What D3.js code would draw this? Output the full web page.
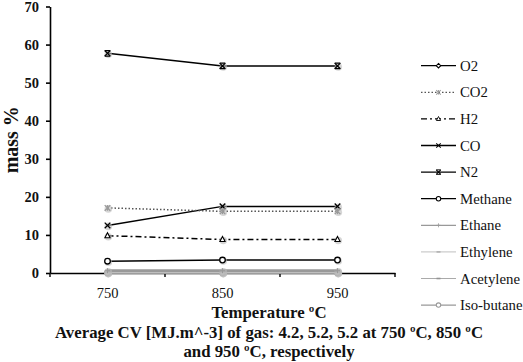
<!DOCTYPE html>
<html>
<head>
<meta charset="utf-8">
<script src="https://cdn.jsdelivr.net/npm/d3@7"></script>
<style>
  body { margin: 0; background: #fff; overflow: hidden; }
  svg { display: block; }
  text { font-family: "Liberation Serif", serif; }
</style>
</head>
<body>
<script>
// temperatures on x axis
var temps = ["750", "850", "950"];
var yTicks = [0, 10, 20, 30, 40, 50, 60, 70];

// gas names (legend order) and mass % per temperature
var gases = ["O2", "CO2", "H2", "CO", "N2", "Methane", "Ethane", "Ethylene", "Acetylene", "Iso-butane"];
var O2 = [0.1, 0.1, 0.1];
var CO2 = [17.1, 16.2, 16.2];
var H2 = [9.8, 8.8, 8.8];
var CO = [12.5, 17.5, 17.5];
var N2 = [57.7, 54.4, 54.4];
var Methane = [3.1, 3.4, 3.4];
var Ethane = [0.6, 0.6, 0.6];
var Ethylene = [0.4, 0.4, 0.4];
var Acetylene = [0.3, 0.3, 0.3];
var IsoButane = [0.1, 0.1, 0.1];

var values = [O2, CO2, H2, CO, N2, Methane, Ethane, Ethylene, Acetylene, IsoButane];

// look of each series
var styles = [
    {color: "#000", dash: null, marker: "diamond"},
    {color: "#555", dash: "1.5,2", marker: "star", mcolor: "#999"},
    {color: "#000", dash: "6,3,2,3", marker: "triangle"},
    {color: "#000", dash: null, marker: "x"},
    {color: "#000", dash: null, marker: "xbar"},
    {color: "#000", dash: null, marker: "circle"},
    {color: "#999", dash: null, marker: "plus"},
    {color: "#ccc", dash: null, marker: "dash"},
    {color: "#aaa", dash: null, marker: "dash"},
    {color: "#999", dash: null, marker: "circle"}
];

var width = 523, height = 362;
var margin = ({top: 6.5, right: 128, bottom: 89, left: 50});

var svg = d3.select("body").append("svg")
    .attr("width", width)
    .attr("height", height);

var x = d3.scaleBand()
    .domain(temps)
    .range([margin.left, width - margin.right])
    .padding(0);

var y = d3.scaleLinear()
    .domain([0, 70])
    .range([height - margin.bottom, margin.top]);

var cx = d => x(d) + x.bandwidth() / 2;

//y axis
svg.append("g")
    .attr("transform", `translate(${margin.left},0)`)
    .call(d3.axisLeft(y).tickValues(yTicks).tickSize(4).tickPadding(7).tickSizeOuter(0))
    .call(g => g.selectAll("line, path").attr("stroke", "#000").attr("stroke-width", 1.6))
    .call(g => g.selectAll("text").attr("font-size", 14.5).attr("font-weight", "bold")
        .attr("font-family", "Liberation Serif").attr("fill", "#111"));

//x axis with ticks between categories
svg.append("g")
    .attr("transform", `translate(0,${y(0)})`)
    .call(d3.axisBottom(x).tickSize(0).tickPadding(15))
    .call(g => g.select(".domain").attr("stroke", "#000").attr("stroke-width", 1.6))
    .call(g => g.selectAll("text").attr("font-size", 14.5)
        .attr("font-family", "Liberation Serif").attr("fill", "#111"));

svg.append("g").selectAll("line")
    .data(d3.range(temps.length + 1))
    .join("line")
    .attr("x1", i => margin.left + i * x.step())
    .attr("x2", i => margin.left + i * x.step())
    .attr("y1", y(0))
    .attr("y2", y(0) + 4)
    .attr("stroke", "#000")
    .attr("stroke-width", 1.4);

function drawMarker(g, kind, color, px, py) {
    if (kind == "circle") {
        g.append("circle").attr("cx", px).attr("cy", py).attr("r", 2.8)
            .attr("fill", "#fff").attr("stroke", color).attr("stroke-width", 1.3);
    } else if (kind == "diamond") {
        g.append("path").attr("d", `M${px},${py-2.8}L${px+2.8},${py}L${px},${py+2.8}L${px-2.8},${py}Z`)
            .attr("fill", "#fff").attr("stroke", color).attr("stroke-width", 1.3);
    } else if (kind == "triangle") {
        g.append("path").attr("d", `M${px},${py-3}L${px+2.6},${py+2}L${px-2.6},${py+2}Z`)
            .attr("fill", "#fff").attr("stroke", color).attr("stroke-width", 1.1);
    } else if (kind == "x" || kind == "xbar" || kind == "star") {
        var s = 2.8;
        g.append("path").attr("d", `M${px-s},${py-s}L${px+s},${py+s}M${px-s},${py+s}L${px+s},${py-s}`)
            .attr("stroke", color).attr("stroke-width", 1.3);
        if (kind == "xbar") {
            g.append("path").attr("d", `M${px-s},${py-s}L${px+s},${py-s}M${px-s},${py+s}L${px+s},${py+s}`)
                .attr("stroke", color).attr("stroke-width", 1.2);
        }
        if (kind == "star") {
            g.append("path").attr("d", `M${px},${py-s}L${px},${py+s}`)
                .attr("stroke", color).attr("stroke-width", 1.2);
        }
    } else if (kind == "plus") {
        g.append("path").attr("d", `M${px-2.5},${py}L${px+2.5},${py}M${px},${py-2.5}L${px},${py+2.5}`)
            .attr("stroke", color).attr("stroke-width", 1);
    } else if (kind == "dash") {
        g.append("path").attr("d", `M${px-2.5},${py}L${px+2.5},${py}`)
            .attr("stroke", d3.color(color).darker(0.4)).attr("stroke-width", 2);
    }
}

var line = d3.line()
    .x((d, i) => cx(temps[i]))
    .y(d => y(d));

//series, drawn from last so that the black ones lie on top except the zeros
var order = [0, 9, 8, 7, 6, 5, 4, 3, 2, 1];
order.forEach(function(k) {
    var st = styles[k];
    var g = svg.append("g");
    var w = k >= 6 ? 3 : 1.5;
    g.append("path")
        .attr("d", line(values[k]))
        .attr("fill", "none")
        .attr("stroke", st.color)
        .attr("stroke-width", w)
        .attr("stroke-dasharray", st.dash);
    values[k].forEach(function(v, i) {
        var px = cx(temps[i]), py = y(v);
        g.append("circle").attr("cx", px + 0.8).attr("cy", py + 1).attr("r", 3.8)
            .attr("fill", "#bbb").attr("opacity", 0.6);
        drawMarker(g, st.marker, st.mcolor || st.color, px, py);
    });
});

//legend
var legend = svg.append("g");
gases.forEach(function(name, k) {
    var st = styles[k];
    var ly = 65.7 + k * 26.6;
    legend.append("line")
        .attr("x1", 421).attr("x2", 456)
        .attr("y1", ly).attr("y2", ly)
        .attr("stroke", st.color)
        .attr("stroke-width", k >= 6 ? 1.2 : 1.3)
        .attr("stroke-dasharray", st.dash);
    var mg = legend.append("g").attr("transform", "translate(438.5," + ly + ") scale(0.8) translate(-438.5," + (-ly) + ")");
    drawMarker(mg, st.marker, st.mcolor || st.color, 438.5, ly);
    legend.append("text")
        .attr("x", 460).attr("y", ly)
        .attr("dy", "0.35em")
        .attr("font-size", 14.8)
        .attr("fill", "#111")
        .text(name);
});

//axis titles
svg.append("text")
    .attr("transform", "translate(18," + ((y(0) + y(70)) / 2) + ") rotate(-90)")
    .attr("text-anchor", "middle")
    .attr("font-size", 20)
    .attr("font-weight", "bold")
    .attr("fill", "#111")
    .text("mass %");

var titleLines = ["Temperature \u00baC",
    "Average CV [MJ.m^-3] of gas: 4.2, 5.2, 5.2 at 750 \u00baC, 850 \u00baC",
    "and 950 \u00baC, respectively"];
titleLines.forEach(function(t, i) {
    svg.append("text")
        .attr("x", 269)
        .attr("y", 318 + i * 19.5)
        .attr("text-anchor", "middle")
        .attr("font-size", 16.8)
        .attr("font-weight", "bold")
        .attr("fill", "#111")
        .text(t);
});
</script>
</body>
</html>
